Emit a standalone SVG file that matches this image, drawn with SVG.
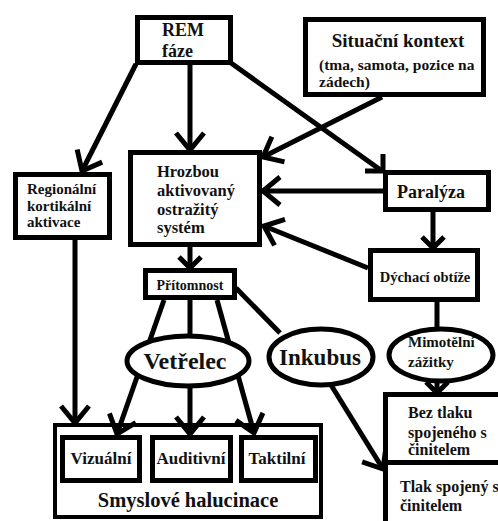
<svg xmlns="http://www.w3.org/2000/svg" width="498" height="521" viewBox="0 0 498 521">
<style>
.bx{fill:#fff;stroke:#000;stroke-width:5}
.bx4{fill:none;stroke:#000;stroke-width:4}
.ln{fill:none;stroke:#000;stroke-width:5}
.t{font-family:'Liberation Serif','DejaVu Serif',serif;font-weight:bold;fill:#111}
</style>
<defs>
<marker id="arr" markerUnits="userSpaceOnUse" viewBox="-30 -25 40 50" refX="0" refY="0" markerWidth="40" markerHeight="50" orient="auto" overflow="visible">
<path d="M-17,-14 L0,0 L-17,14" fill="none" stroke="#000" stroke-width="5"/>
</marker>
<marker id="arrS" markerUnits="userSpaceOnUse" viewBox="-30 -25 40 50" refX="0" refY="0" markerWidth="40" markerHeight="50" orient="auto" overflow="visible">
<path d="M-11,-11 L0,0 L-11,11" fill="none" stroke="#000" stroke-width="5"/>
</marker>
</defs>
<rect width="498" height="521" fill="#fff"/>
<g id="connectors">
<path class="ln" d="M136,64 L82,171" marker-end="url(#arr)"/>
<path class="ln" d="M190,63 L190,150" marker-end="url(#arr)"/>
<path class="ln" d="M231,63 L382,171"/>
<path class="ln" d="M365,171 L383,171 M383,154 L383,173"/>
<path class="ln" d="M382,97 L263,157" marker-end="url(#arr)"/>
<path class="ln" d="M383,191 L263,191" marker-end="url(#arr)"/>
<path class="ln" d="M368,268 L264,226" marker-end="url(#arr)"/>
<path class="ln" d="M433,212 L433,248" marker-end="url(#arrS)"/>
<path class="ln" d="M437,302 L437,330"/>
<path class="ln" d="M437,380 L437,393" marker-end="url(#arrS)"/>
<path class="ln" d="M190,247 L190,268" marker-end="url(#arrS)"/>
<path class="ln" d="M164,300 L117,434" marker-end="url(#arr)"/>
<path class="ln" d="M190,300 L190,434" marker-end="url(#arr)"/>
<path class="ln" d="M217,300 L254,433" marker-end="url(#arr)"/>
<path class="ln" d="M236,288 L280,333"/>
<path class="ln" d="M331,385 L383,469" marker-end="url(#arr)"/>
<path class="ln" d="M75,240 L75,423" marker-end="url(#arr)"/>
</g>
<g class="t" font-family="Liberation Serif, DejaVu Serif, serif" font-weight="bold">
<g id="rem">
<rect class="bx" x="137.5" y="17.5" width="93" height="45"/>
<text x="162" y="36" font-size="18">REM</text>
<text x="162" y="57" font-size="18">fáze</text>
</g>
<g id="situacni">
<rect class="bx" x="305.5" y="19.5" width="178" height="75"/>
<text x="398" y="47" font-size="19" text-anchor="middle">Situační kontext</text>
<text x="319" y="70" font-size="15.5">(tma, samota, pozice na</text>
<text x="319" y="87" font-size="15.5">zádech)</text>
</g>
<g id="regionalni">
<rect class="bx" x="15.5" y="174.5" width="94" height="63"/>
<text x="27" y="194" font-size="15">Regionální</text>
<text x="27" y="211" font-size="15">kortikální</text>
<text x="27" y="227" font-size="15">aktivace</text>
</g>
<g id="hrozbou">
<rect class="bx" x="130.5" y="152.5" width="129" height="92"/>
<text x="157" y="177" font-size="16.5">Hrozbou</text>
<text x="157" y="196" font-size="16.5">aktivovaný</text>
<text x="157" y="215" font-size="16.5">ostražitý</text>
<text x="157" y="233" font-size="16.5">systém</text>
</g>
<g id="paralyza">
<rect class="bx" x="385.5" y="172.5" width="103" height="37"/>
<text x="431" y="198" font-size="18" text-anchor="middle">Paralýza</text>
</g>
<g id="dychaci">
<rect class="bx" x="370.5" y="250.5" width="107" height="49"/>
<text x="425" y="282" font-size="14.5" text-anchor="middle">Dýchací obtíže</text>
</g>
<g id="mimotelni">
<ellipse class="bx" cx="441" cy="355" rx="52" ry="26"/>
<text x="408" y="347" font-size="15">Mimotělní</text>
<text x="408" y="367" font-size="15">zážitky</text>
</g>
<g id="beztlaku">
<rect class="bx" x="385.5" y="394.5" width="120" height="68"/>
<text x="408" y="418" font-size="16">Bez tlaku</text>
<text x="408" y="438" font-size="16">spojeného s</text>
<text x="408" y="455" font-size="16">činitelem</text>
</g>
<g id="tlak">
<rect class="bx" x="385.5" y="462.5" width="120" height="80"/>
<text x="400" y="492" font-size="16">Tlak spojený s</text>
<text x="400" y="511" font-size="16">činitelem</text>
</g>
<g id="pritomnost">
<rect class="bx" x="145.5" y="270.5" width="89" height="27"/>
<text x="190" y="290" font-size="14" text-anchor="middle">Přítomnost</text>
</g>
<g id="vetrelec">
<ellipse class="bx" cx="188" cy="361" rx="61" ry="25"/>
<text x="185" y="369" font-size="24" text-anchor="middle">Vetřelec</text>
</g>
<g id="inkubus">
<ellipse class="bx" cx="321" cy="357" rx="52" ry="28"/>
<text x="320" y="365" font-size="23" text-anchor="middle">Inkubus</text>
</g>
<g id="smyslove">
<rect class="bx4" x="55" y="425" width="266" height="92"/>
<text x="188" y="507" font-size="20.5" text-anchor="middle">Smyslové halucinace</text>
</g>
<g id="vizualni">
<rect class="bx" x="62.5" y="437.5" width="77" height="43"/>
<text x="101" y="464" font-size="17" text-anchor="middle">Vizuální</text>
</g>
<g id="auditivni">
<rect class="bx" x="152.5" y="437.5" width="78" height="43"/>
<text x="191" y="464" font-size="17" text-anchor="middle">Auditivní</text>
</g>
<g id="taktilni">
<rect class="bx" x="241.5" y="437.5" width="74" height="43"/>
<text x="277" y="464" font-size="17" text-anchor="middle">Taktilní</text>
</g>
</g>
</svg>
